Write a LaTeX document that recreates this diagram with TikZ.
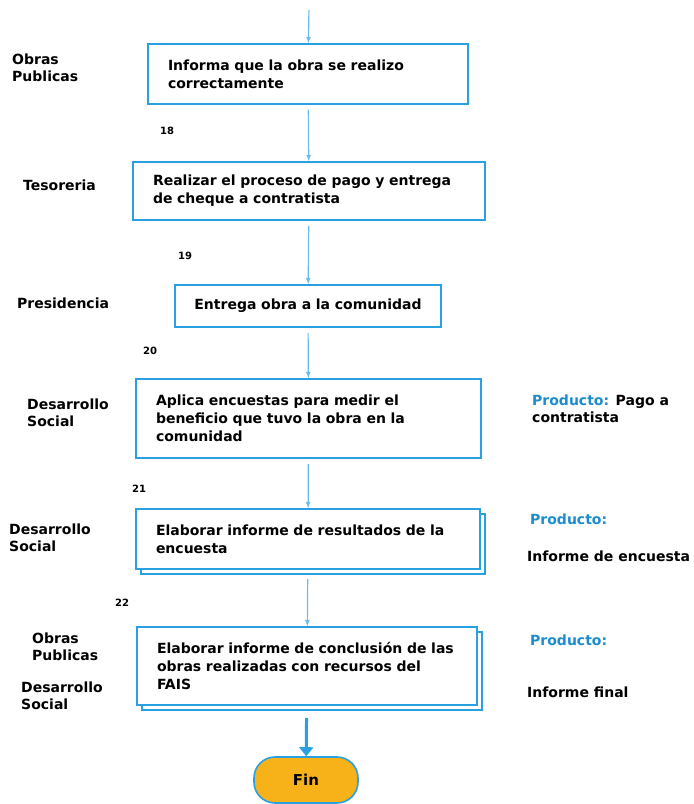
\documentclass[tikz,border=0pt]{standalone}
\usepackage{fontspec}
\setmainfont{DejaVu Sans}
\usetikzlibrary{shadows,arrows.meta}
\definecolor{flowblue}{RGB}{41,160,226}
\definecolor{linkblue}{RGB}{105,188,236}
\definecolor{prodblue}{RGB}{28,140,205}
\definecolor{finorange}{RGB}{247,178,25}

\begin{document}
\begin{tikzpicture}[x=1pt,y=-1pt,
  paso/.style={draw=flowblue, line width=1.6pt, fill=white, inner xsep=20pt, inner ysep=0pt, align=left, font=\fontsize{14}{18}\selectfont\bfseries},
  pila/.style={paso, copy shadow={shadow xshift=5pt, shadow yshift=-5pt}},
  area/.style={anchor=west, align=left, inner sep=0pt, font=\fontsize{14}{17}\selectfont\bfseries},
  num/.style={inner sep=0pt, font=\fontsize{10}{12}\selectfont\bfseries},
  enlace/.style={draw=linkblue, line width=1.2pt, ->, >=latex, shorten <=5pt}
]
\useasboundingbox (0,0) rectangle (694,804);

% pasos
\node (b1) at (308,74) [paso, text width=280pt, minimum height=60pt] {Informa que la obra se realizo\\correctamente};
\node (b2) at (309,191) [paso, text width=312pt, minimum height=58pt] {Realizar el proceso de pago y entrega\\de cheque a contratista};
\node (b3) at (308,306) [paso, inner xsep=8pt, text width=250pt, minimum height=42pt, align=center] {Entrega obra a la comunidad};
\node (b4) at (308.5,418.5) [paso, text width=305pt, minimum height=79pt] {Aplica encuestas para medir el\\beneficio que tuvo la obra en la\\comunidad};
\node (b5) at (308,539) [pila, text width=304pt, minimum height=60pt] {Elaborar informe de resultados de la\\encuesta};
\node (b6) at (307,666) [pila, text width=300pt, minimum height=78pt] {Elaborar informe de conclusión de las\\obras realizadas con recursos del\\FAIS};
\node (fin) at (306,780) [draw=flowblue, line width=1.6pt, fill=finorange, rounded corners=21pt, minimum width=104pt, minimum height=46pt, font=\fontsize{15}{17}\selectfont\bfseries] {Fin};

% areas
\node (a1) at (12,68) [area] {Obras\\Publicas};
\node (a2) at (23,185) [area] {Tesoreria};
\node (a3) at (17,303) [area] {Presidencia};
\node (a4) at (27,413) [area] {Desarrollo\\Social};
\node (a5) at (9,538) [area] {Desarrollo\\Social};
\node (a6) at (32,647) [area] {Obras\\Publicas};
\node (a7) at (21,696) [area] {Desarrollo\\Social};

% productos
\node (p1) at (532,409) [area] {\textcolor{prodblue}{Producto:} Pago a\\contratista};
\node (p2) at (530,519) [area, text=prodblue] {Producto:};
\node (p3) at (527,556) [area] {Informe de encuesta};
\node (p4) at (530,640) [area, text=prodblue] {Producto:};
\node (p5) at (527,692) [area] {Informe final};

% numeros
\node (n18) at (167,131) [num] {18};
\node (n19) at (185,256) [num] {19};
\node (n20) at (150,351) [num] {20};
\node (n21) at (139,489) [num] {21};
\node (n22) at (122,603) [num] {22};

\coordinate (inicio) at (309,5);
\draw[enlace] (inicio) -- (b1);
\draw[enlace] (b1) -- (b2);
\draw[enlace] (b2) -- (b3);
\draw[enlace] (b3) -- (b4);
\draw[enlace] (b4) -- (b5);
\draw[enlace, shorten <=9pt] (b5) -- (b6);
\draw[draw=flowblue, line width=3pt, -{Triangle[width=14pt,length=9pt]}, shorten <=12pt] (b6) -- (fin);
\end{tikzpicture}
\end{document}
